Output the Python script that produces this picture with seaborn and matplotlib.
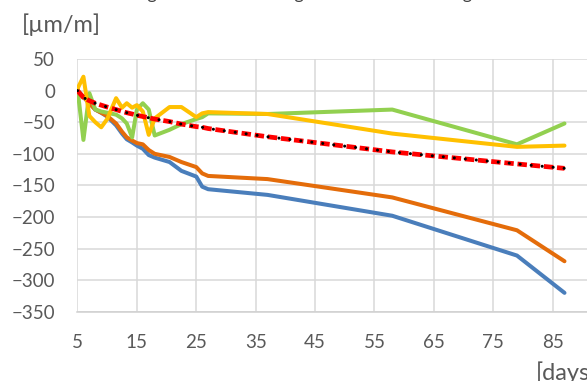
import pandas as pd
import seaborn as sns
import matplotlib
matplotlib.use("Agg")
import matplotlib.pyplot as plt

# measurement days (shared by all series)
days = [5, 6, 7, 8, 9, 10, 11.5, 12.5, 13.3, 14.2, 15, 16, 17, 18,
        20.5, 22.5, 25, 26, 27, 37, 58, 79, 87]

# strain values [um/m]
blue = [0, -10, -20, -30, -35, -41, -55, -68, -77, -82, -87, -92, -102, -106,
        -113, -127, -136, -152, -156, -165, -198, -261, -320]
orange = [0, -10, -20, -30, -35, -40, -52, -65, -74, -79, -83, -85, -94, -100,
          -105, -113, -121, -131, -135, -140, -169, -221, -270]
green = [3, -78, -4, -30, -33, -35, -38, -44, -52, -74, -30, -20, -30, -71,
         -62, -53, -45, -42, -36, -37, -30, -85, -52]
yellow = [3, 22, -40, -50, -58, -45, -12, -27, -20, -27, -23, -33, -70, -44,
          -26, -26, -42, -36, -34, -37, -68, -89, -87]
fit = [0, -11, -16, -20, -23, -26, -30, -33, -35, -37, -39, -41, -43, -45,
       -49, -53, -57, -58, -60, -73, -97, -116, -123]

series_names = ["S1", "S2", "S3", "S4"]
series_colors = ["#4A7EBB", "#E46C0A", "#92D050", "#FFC000"]

xticks = [5, 15, 25, 35, 45, 55, 65, 75, 85]
yticks = [50, 0, -50, -100, -150, -200, -250, -300, -350]

df = pd.DataFrame({"day": days, "S1": blue, "S2": orange, "S3": green, "S4": yellow})
df = df.melt(id_vars="day", var_name="series", value_name="strain")

sns.set_theme(style="white")
plt.rcParams["font.family"] = ["Lato", "DejaVu Sans"]

fig = plt.figure(figsize=(5.87, 3.81), dpi=100)
ax = fig.add_axes([0.132, 0.1816, 0.9106, 0.6635])

sns.lineplot(data=df, x="day", y="strain", hue="series", hue_order=series_names,
             palette=series_colors, linewidth=2.9, sort=False, legend=False,
             ax=ax, zorder=3)
# fitted trend: red dashes with black round dots on top
ax.plot(days, fit, color="red", linewidth=3.4, linestyle=(0, (2.0, 0.8)), zorder=4)
ax.plot(days, fit, color="black", linewidth=2.2, linestyle=(0, (0.01, 3.6)),
        dash_capstyle="round", zorder=5)

ax.set_xlim(5, 95)
ax.set_ylim(-350, 50)
ax.set_xticks(xticks)
ax.set_yticks(yticks)
ax.set_xlabel("")
ax.set_ylabel("")
ax.grid(True, color="#D9D9D9", linewidth=1.1)
for s in ["top", "right", "left"]:
    ax.spines[s].set_visible(False)
ax.spines["bottom"].set_color("#D0D0D0")
ax.spines["bottom"].set_linewidth(1.1)
ax.tick_params(axis="both", length=0, labelsize=13.5, labelcolor="#595959")
ax.tick_params(axis="y", pad=16)
ax.tick_params(axis="x", pad=16)

fig.text(22 / 587, 1 - 25 / 381, "[\u00b5m/m]", fontsize=17, color="#595959",
         ha="left", va="center")
fig.text(536 / 587, 1 - 373 / 381, "[days]", fontsize=17, color="#595959",
         ha="left", va="center")
fig.text(0.518, 1 + 1 / 381, "Average total strain along the beam axis during test",
         fontsize=13, color="#404040", ha="center", va="baseline")

fig.savefig("out.png", dpi=100)
